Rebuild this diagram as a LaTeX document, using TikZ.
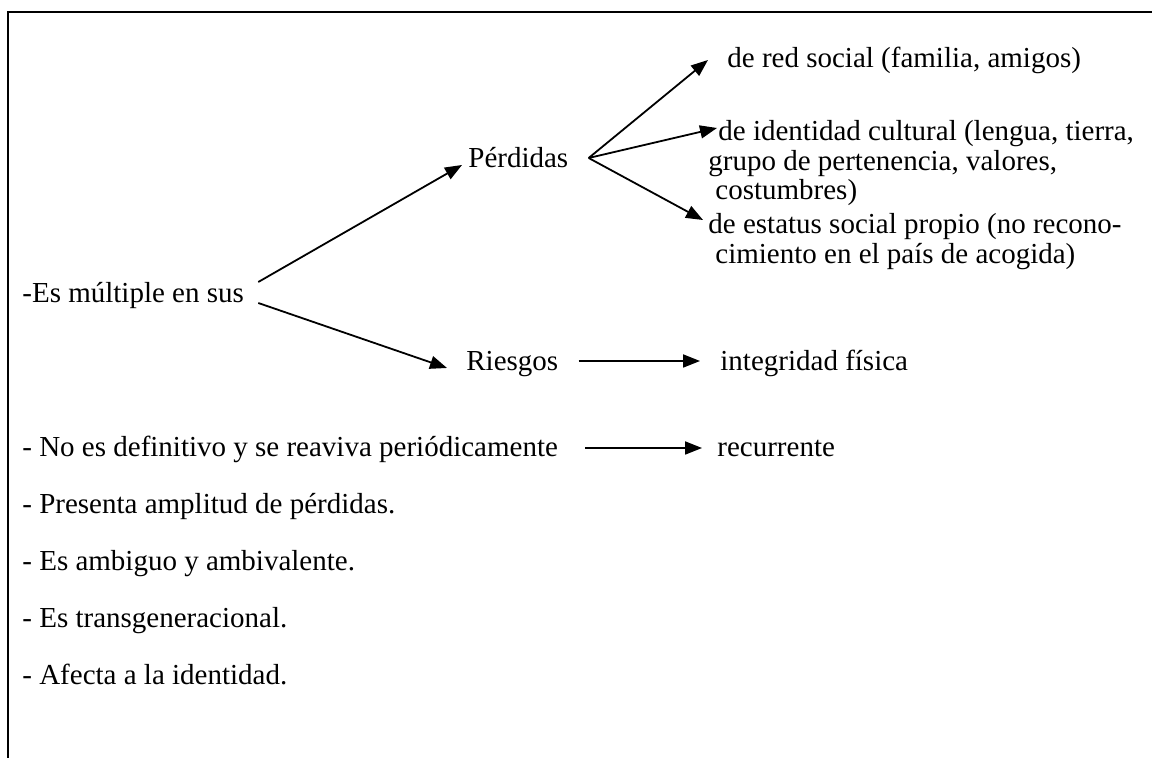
\documentclass[tikz,border=0pt]{standalone}
\usepackage{fontspec}
\setmainfont{Liberation Serif}
\usetikzlibrary{arrows.meta,calc}

\begin{document}
\begin{tikzpicture}[x=0.5pt,y=-0.5pt,
txt/.style={inner sep=0pt,anchor=base west,font=\fontsize{14.5pt}{14.8pt}\selectfont},
mtxt/.style={txt,anchor=north west,align=left},
arr/.style={line width=0.9pt,-{Triangle[length=8.5pt,width=6.5pt]}}]
	\useasboundingbox (0,0) rectangle (1152,758);
	%frame
	\draw[line width=1pt] (1152,12) -- (8,12) -- (8,758);

	%multiple
	\node[txt] at (22,303) (mult) {-Es múltiple en sus};
	\node[txt] at (468,168) (perd) {Pérdidas};
	\node[txt] at (466,371) (ries) {Riesgos};
	\draw[arr] ([shift={(14,-21)}]mult.base east) -- ([shift={(-6,-3)}]perd.base west);
	\draw[arr] ([shift={(14,0)}]mult.base east) -- ([shift={(-19,-3)}]ries.base west);

	%losses
	\node[txt] at (727,68) (red) {de red social (familia, amigos)};
	\node[mtxt] at (708,120) (ident) {\hspace*{5pt}de identidad cultural (lengua, tierra,\\grupo de pertenencia, valores,\\\hspace*{3.5pt}costumbres)};
	\node[mtxt] at (708,213) (stat) {de estatus social propio (no recono-\\\hspace*{3.5pt}cimiento en el país de acogida)};
	\coordinate (pfan) at ([shift={(20,-10)}]perd.base east);
	\draw[arr] (pfan) -- ([shift={(-19,-8)}]red.base west);
	\draw[arr] (pfan) -- ([shift={(9,8)}]ident.north west);
	\draw[arr] (pfan) -- ([shift={(-5,7)}]stat.north west);

	%risks
	\node[txt] at (720,371) (integ) {integridad física};
	\draw[arr] ([shift={(20,-10)}]ries.base east) -- ([shift={(-20,-10)}]integ.base west);

	%other features
	\node[txt] at (22,457) (noes) {- No es definitivo y se reaviva periódicamente};
	\node[txt] at (717,457) (recu) {recurrente};
	\draw[arr] ([shift={(27,-9)}]noes.base east) -- ([shift={(-15,-9)}]recu.base west);
	\node[txt] at (22,514) (ampl) {- Presenta amplitud de pérdidas.};
	\node[txt] at (22,571) (ambi) {- Es ambiguo y ambivalente.};
	\node[txt] at (22,628) (trans) {- Es transgeneracional.};
	\node[txt] at (22,685) (afec) {- Afecta a la identidad.};
\end{tikzpicture}
\end{document}
